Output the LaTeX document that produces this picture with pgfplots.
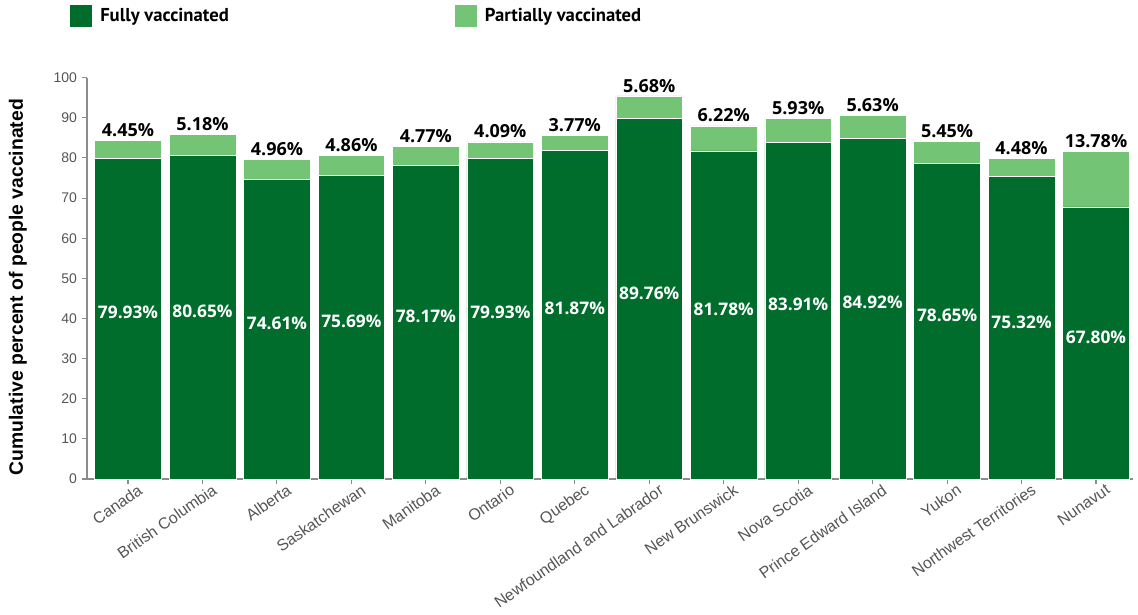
\documentclass[border=0pt]{standalone}
\usepackage{fontspec}
\setmainfont{Liberation Sans}
\newfontfamily\opensans{Open Sans}
\newfontfamily\ptsans{PT Sans}
\usepackage{pgfplots}
\pgfplotsset{compat=1.18}
\definecolor{fullg}{HTML}{006D2C}
\definecolor{partg}{HTML}{74C476}
\definecolor{axgray}{HTML}{8C8C8C}
\definecolor{tickgray}{HTML}{555555}
\begin{document}
\begin{tikzpicture}
\path[use as bounding box] (-65.25pt,-101.25pt) rectangle (788.25pt,359.25pt);
\begin{axis}[
  at={(0,0)}, anchor=south west,
  scale only axis, width=784.5pt, height=301pt,
  ybar stacked, bar width=50pt,
  xmin=-0.551, xmax=13.497, ymin=0, ymax=100,
  xtick={0,...,13},
  xticklabels={Canada,British Columbia,Alberta,Saskatchewan,Manitoba,Ontario,Quebec,Newfoundland and Labrador,New Brunswick,Nova Scotia,Prince Edward Island,Yukon,Northwest Territories,Nunavut},
  ytick={0,10,...,100},
  axis lines*=left,
  axis line style={axgray, line width=0.8pt},
  tick style={axgray, line width=0.8pt},
  major tick length=4pt, tick align=outside,
  /pgf/number format/assume math mode=true,
  y tick label style={font=\fontsize{10.5}{12}\selectfont, text=tickgray},
  x tick label style={font=\fontsize{12}{14}\selectfont, text=tickgray, rotate=35, anchor=north east, inner sep=1pt, xshift=7pt, yshift=-2pt},
  ylabel={Cumulative percent of people vaccinated},
  every axis y label/.style={at={(axis description cs:-0.066,0.478)}, rotate=90, anchor=center, font=\bfseries\fontsize{14.5}{16}\selectfont},
  legend style={at={(axis description cs:-0.01625,1.154)}, anchor=west, draw=none, fill=none, legend columns=2, font=\ptsans\bfseries\fontsize{14}{16}\selectfont, inner sep=0pt,
    /tikz/every odd column/.append style={column sep=4pt}},
  legend image code/.code={\fill[#1,draw=none] (0pt,-8.25pt) rectangle (16.5pt,8.25pt);},
]
\addplot[fill=fullg, draw=white, line width=0.4pt,
  point meta=explicit symbolic,
  nodes near coords={\pgfplotspointmeta\%},
  every node near coord/.append style={anchor=center, text=white, font=\opensans\bfseries\fontsize{13}{15}\selectfont, yshift=4.5pt}]
coordinates {
(0,79.93)[79.93] (1,80.65)[80.65] (2,74.61)[74.61] (3,75.69)[75.69] (4,78.17)[78.17]
(5,79.93)[79.93] (6,81.87)[81.87] (7,89.76)[89.76] (8,81.78)[81.78] (9,83.91)[83.91]
(10,84.92)[84.92] (11,78.65)[78.65] (12,75.32)[75.32] (13,67.80)[67.80]
};
\addlegendentry{\makebox[264pt][l]{Fully vaccinated}}
\addplot[fill=partg, draw=white, line width=0.4pt,
  point meta=explicit symbolic,
  nodes near coords={\pgfplotspointmeta\%},
  visualization depends on={rawy \as \rawy},
  every node near coord/.append style={anchor=south, text=black, inner sep=1pt, font=\opensans\bfseries\fontsize{13.5}{15}\selectfont, yshift={\rawy*1.505pt+1.5pt}}]
coordinates {
(0,4.45)[4.45] (1,5.18)[5.18] (2,4.96)[4.96] (3,4.86)[4.86] (4,4.77)[4.77]
(5,4.09)[4.09] (6,3.77)[3.77] (7,5.68)[5.68] (8,6.22)[6.22] (9,5.93)[5.93]
(10,5.63)[5.63] (11,5.45)[5.45] (12,4.48)[4.48] (13,13.78)[13.78]
};
\addlegendentry{Partially vaccinated}
\end{axis}
\end{tikzpicture}
\end{document}
